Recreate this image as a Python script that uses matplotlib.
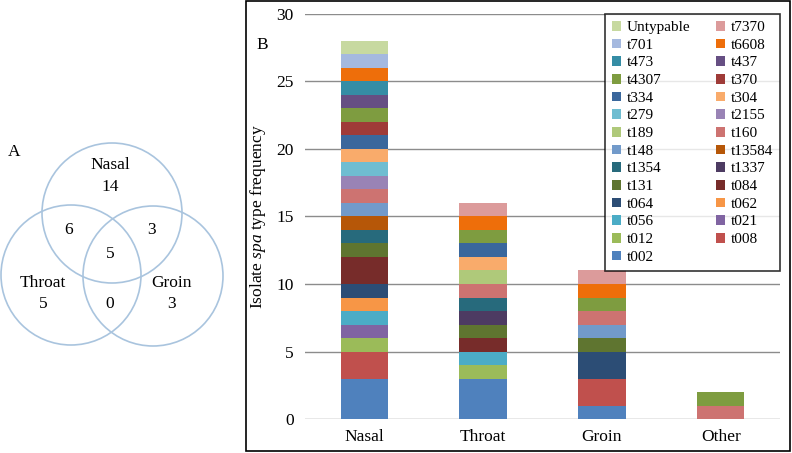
import numpy as np
import matplotlib
matplotlib.use("Agg")
import matplotlib.pyplot as plt
from matplotlib.patches import Circle, Rectangle

plt.rcParams['font.family'] = ['Liberation Serif', 'DejaVu Serif']
plt.rcParams['mathtext.fontset'] = 'custom'
plt.rcParams['mathtext.it'] = 'Liberation Serif:italic'
plt.rcParams['mathtext.rm'] = 'Liberation Serif'

# Panel B data: spa type counts per site (stack order bottom -> top)
sites = ['Nasal', 'Throat', 'Groin', 'Other']
spa_types = ['t002', 't008', 't012', 't021', 't056', 't062', 't064', 't084',
             't131', 't1337', 't1354', 't13584', 't148', 't160', 't189', 't2155',
             't279', 't304', 't334', 't370', 't4307', 't437', 't473', 't6608',
             't701', 't7370', 'Untypable']
nasal =  [3, 2, 1, 1, 1, 1, 1, 2, 1, 0, 1, 1, 1, 1, 0, 1, 1, 1, 1, 1, 1, 1, 1, 1, 1, 0, 1]
throat = [3, 0, 1, 0, 1, 0, 0, 1, 1, 1, 1, 0, 0, 1, 1, 0, 0, 1, 1, 0, 1, 0, 0, 1, 0, 1, 0]
groin =  [1, 2, 0, 0, 0, 0, 2, 0, 1, 0, 0, 0, 1, 1, 0, 0, 0, 0, 0, 0, 1, 0, 0, 1, 0, 1, 0]
other =  [0, 0, 0, 0, 0, 0, 0, 0, 0, 0, 0, 0, 0, 1, 0, 0, 0, 0, 0, 0, 1, 0, 0, 0, 0, 0, 0]
colors = ['#4F81BD', '#C0504D', '#9BBB59', '#8064A2', '#4BACC6', '#F79646',
          '#2C4D75', '#772C2A', '#5F7530', '#4D3B62', '#276A7C', '#B65708',
          '#729ACA', '#CD7371', '#AFC97A', '#9983B5', '#6FBDD1', '#F9AB6B',
          '#3A679C', '#9F3B38', '#7E9C40', '#664F83', '#358DA5', '#EE6E0A',
          '#A5B9DF', '#DC9B9B', '#C7D9A0']

# Panel A data: Venn region counts
venn_sets = ['Nasal', 'Throat', 'Groin']
venn_only = [14, 5, 3]
venn_nasal_throat = 6
venn_nasal_groin = 3
venn_throat_groin = 0
venn_all = 5

W, H = 792, 453
fig = plt.figure(figsize=(W / 100, H / 100), dpi=100)

# --- Panel A: Venn (pixel-space overlay axes)
axA = fig.add_axes([0, 0, 1, 1])
axA.set_xlim(0, W)
axA.set_ylim(H, 0)
axA.axis('off')
centers = [(112, 213), (71, 275), (153, 276)]
for c in centers:
    axA.add_patch(Circle(c, 70, fill=False, ec='#A9C4DE', lw=1.2))
fs = 12.5
axA.text(8, 152, 'A', fontsize=fs, ha='left', va='center')
axA.text(110, 165, venn_sets[0], fontsize=fs, ha='center', va='center')
axA.text(110, 187, str(venn_only[0]), fontsize=fs, ha='center', va='center')
axA.text(43, 283, venn_sets[1], fontsize=fs, ha='center', va='center')
axA.text(43, 304, str(venn_only[1]), fontsize=fs, ha='center', va='center')
axA.text(172, 283, venn_sets[2], fontsize=fs, ha='center', va='center')
axA.text(172, 304, str(venn_only[2]), fontsize=fs, ha='center', va='center')
axA.text(69, 230, str(venn_nasal_throat), fontsize=fs, ha='center', va='center')
axA.text(152, 230, str(venn_nasal_groin), fontsize=fs, ha='center', va='center')
axA.text(110, 304, str(venn_throat_groin), fontsize=fs, ha='center', va='center')
axA.text(110, 254, str(venn_all), fontsize=fs, ha='center', va='center')

# frame around panel B
axA.add_patch(Rectangle((246, 1), 544, 450, fill=False, ec='black', lw=1.2))
axA.text(256, 45, 'B', fontsize=fs, ha='left', va='center')

# --- Panel B: stacked bars
ax = fig.add_axes([305 / W, 1 - 419 / H, 475 / W, (419 - 14) / H])
data = np.array([nasal, throat, groin, other])
x = np.arange(len(sites))
bottom = np.zeros(len(sites))
handles = []
for i, name in enumerate(spa_types):
    vals = data[:, i]
    b = ax.bar(x, vals, 0.4, bottom=bottom, color=colors[i], edgecolor='none',
               label=name, zorder=3)
    handles.append(b)
    bottom += vals

ax.set_xlim(-0.5, 3.5)
ax.set_ylim(0, 30)
ax.set_yticks(range(0, 31, 5))
ax.set_xticks(x)
ax.set_xticklabels(sites, fontsize=12.5)
ax.tick_params(axis='y', labelsize=12.5, length=0, pad=8)
ax.tick_params(axis='x', length=0, pad=7)
ax.grid(axis='y', color='#8C8C8C', lw=1, zorder=0)
for s in ax.spines.values():
    s.set_visible(False)
ax.set_facecolor('none')
ax.set_ylabel('Isolate $\\mathit{spa}$ type frequency', fontsize=12.5, labelpad=6)

# legend: reversed, filled row-wise in 2 columns
rev_h = handles[::-1]
rev_l = spa_types[::-1]
order_h = rev_h[0::2] + rev_h[1::2]
order_l = rev_l[0::2] + rev_l[1::2]
leg = ax.legend(order_h, order_l, ncol=2, loc='upper right', borderaxespad=0,
                fontsize=11, frameon=True, fancybox=False, handlelength=0.6,
                handleheight=0.6, handletextpad=0.35, columnspacing=1.7,
                labelspacing=0.29, borderpad=0.45)
leg.get_frame().set_edgecolor('black')
leg.get_frame().set_linewidth(1.2)
leg.set_zorder(5)

plt.savefig('out.png', dpi=100)
